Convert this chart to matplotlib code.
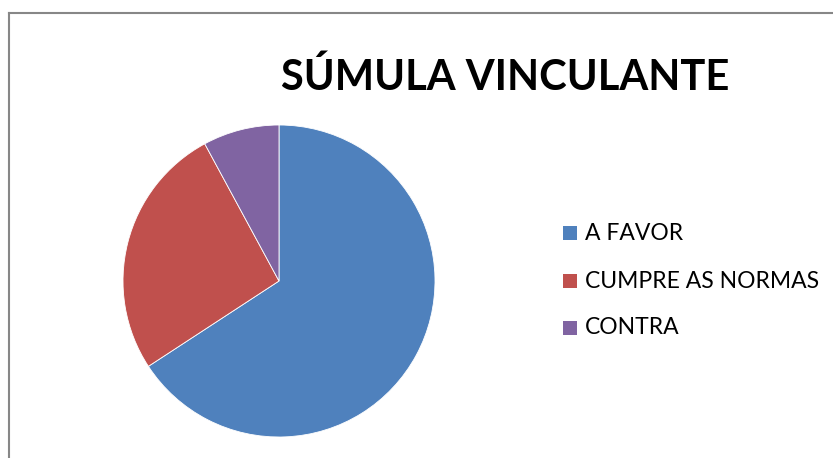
import matplotlib
matplotlib.use('Agg')
import matplotlib.pyplot as plt
from matplotlib.patches import Rectangle
from matplotlib.lines import Line2D

# Data
labels = ['A FAVOR', 'CUMPRE AS NORMAS', 'CONTRA']
values = [25, 10, 3]
colors = ['#4F81BD', '#C0504D', '#8064A2']
title = 'SÚMULA VINCULANTE'

W, H = 833, 458
fig = plt.figure(figsize=(W / 100, H / 100), dpi=100)
fig.patch.set_facecolor('white')

# chart area border (only left and top visible)
fig.add_artist(Line2D([9 / W, 9 / W], [0, 1 - 13 / H], color='#878787', lw=1.5))
fig.add_artist(Line2D([9 / W, 1], [1 - 13 / H, 1 - 13 / H], color='#878787', lw=1.5))

# pie, centre (279, 281) px, radius 156 px
cx, cy, r = 279, 281, 156
ax = fig.add_axes([(cx - r) / W, (H - cy - r) / H, 2 * r / W, 2 * r / H])
ax.pie(values, colors=colors, startangle=90, counterclock=False,
       wedgeprops=dict(edgecolor='white', linewidth=0.6))
ax.set_xlim(-1, 1)
ax.set_ylim(-1, 1)
ax.set_aspect('equal')
ax.axis('off')

fig.text(505 / W, 1 - 77 / H, title, ha='center', va='center',
         fontsize=30, fontweight='bold', family='Lato', color='black')

# legend
ys = [233, 281, 328]
for lab, col, y in zip(labels, colors, ys):
    fig.add_artist(Rectangle((563 / W, 1 - (y + 7) / H), 14 / W, 14 / H,
                             facecolor=col, edgecolor='none',
                             transform=fig.transFigure))
    fig.text(585 / W, 1 - y / H, lab, ha='left', va='center',
             fontsize=16.5, family='Lato', color='black')

plt.savefig('out.png', dpi=100)
plt.close()
